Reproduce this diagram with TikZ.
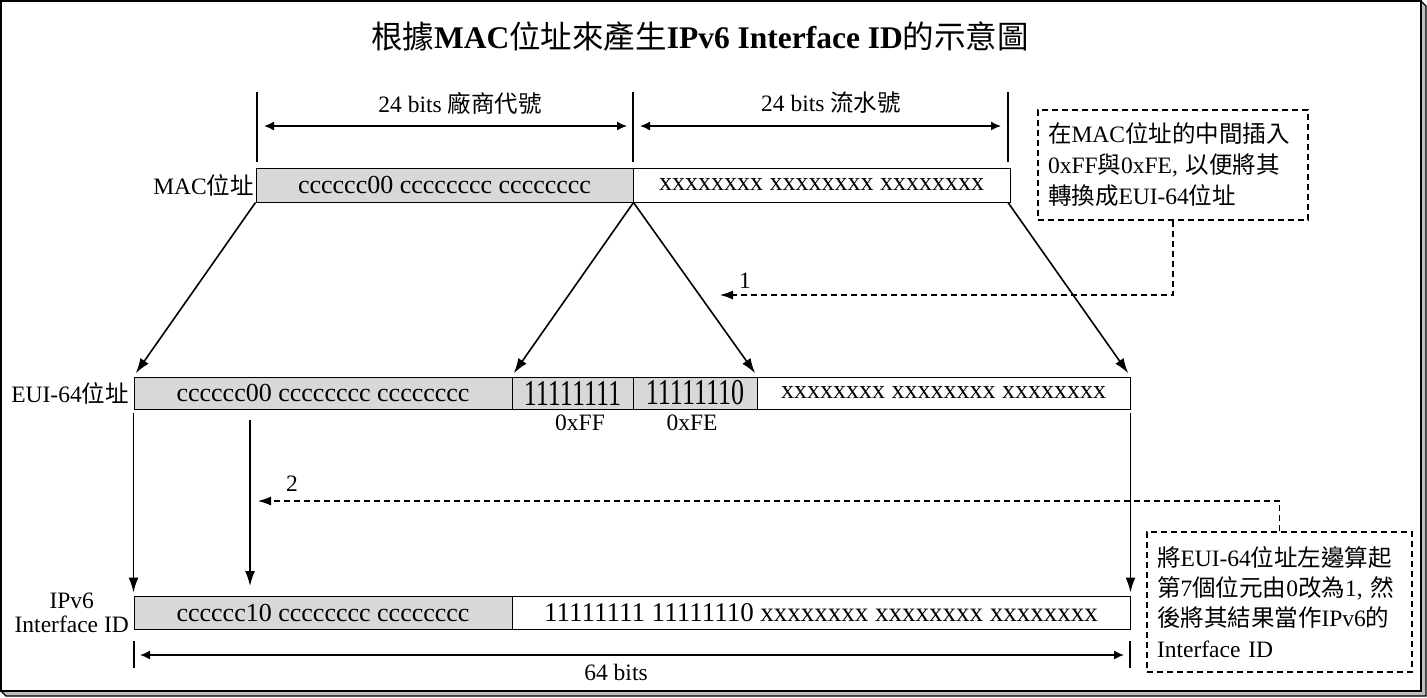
\documentclass[tikz,border=0pt]{standalone}
\usepackage{fontspec}
\setmainfont{Liberation Serif}
\newfontfamily\cjk{Noto Sans CJK TC}
\usetikzlibrary{arrows.meta}
\newcommand\zh[1]{{\cjk\mdseries #1}}
\definecolor{cellgray}{RGB}{216,216,216}
\definecolor{shadowgray}{RGB}{190,190,190}
\begin{document}
\begin{tikzpicture}[x=1pt,y=-1pt,
  font=\fontsize{23.5}{28}\selectfont,
  cell/.style={draw, line width=1pt, inner sep=0pt, font=\fontsize{26}{30}\selectfont, anchor=center},
  graycell/.style={cell, fill=cellgray},
  arr/.style={line width=1.6pt, -{Latex[length=15pt,width=10pt]}},
  dimarr/.style={line width=1.5pt, {Latex[length=10pt,width=9pt]}-{Latex[length=10pt,width=9pt]}},
  tickline/.style={line width=1.8pt},
  dsh/.style={line width=1.1pt, dash pattern=on 6pt off 4pt},
  dsharr/.style={dsh, -{Latex[length=13pt,width=9pt]}},
  note/.style={dsh, draw, align=left, inner xsep=10pt, inner ysep=0pt, anchor=center},
  lbl/.style={inner sep=0pt}]
\useasboundingbox (0,0) rectangle (1427,697);
% frame with shadow
\draw[line width=1.2pt, fill=shadowgray] (1421,1) -- (1426,6) -- (1426,696) -- (6,696) -- (1,691) -- (1421,691) -- cycle;
\draw[line width=1.5pt, fill=white] (1,1) rectangle (1421,691);

% title
\node[lbl, font=\fontsize{31.5}{36}\selectfont\bfseries] (title) at (700,37)
  {\zh{根據}MAC\zh{位址來產生}IPv6 Interface ID\zh{的示意圖}};

% MAC row
\node[graycell, minimum width=377pt, minimum height=34pt] (macA) at (444.5,185) {cccccc00 cccccccc cccccccc};
\node[cell, minimum width=377pt, minimum height=34pt] (macB) at (821.5,185) {xxxxxxxx xxxxxxxx xxxxxxxx};
\node[lbl, anchor=east] (macL) at (254,185) {MAC\zh{位址}};

% ticks and dimension arrows (top)
\coordinate (t1a) at (257,92);  \coordinate (t1b) at (257,162);
\coordinate (t2a) at (633,92);  \coordinate (t2b) at (633,162);
\coordinate (t3a) at (1008,92); \coordinate (t3b) at (1008,162);
\draw[tickline] (t1a) -- (t1b);
\draw[tickline] (t2a) -- (t2b);
\draw[tickline] (t3a) -- (t3b);
\coordinate (d1a) at (264,126); \coordinate (d1b) at (627,126);
\coordinate (d2a) at (640,126); \coordinate (d2b) at (1001,126);
\draw[dimarr] (d1a) -- (d1b);
\draw[dimarr] (d2a) -- (d2b);
\node[lbl] (lab1) at (460,103) {24 bits \zh{廠商代號}};
\node[lbl] (lab2) at (831,103) {24 bits \zh{流水號}};

% note 1
\node[note, text width=250pt, minimum height=110pt, font=\fontsize{23.5}{31}\selectfont] (note1) at (1173,165)
  {\zh{在}MAC\zh{位址的中間插入}\\0xFF\zh{與}0xFE, \zh{以便將其}\\\zh{轉換成}EUI-64\zh{位址}};
\coordinate (c1) at (720,295);
\draw[dsharr] (note1.south) |- (c1);
\node[lbl] (one) at (745,281) {1};

% EUI-64 row
\node[graycell, minimum width=378pt, minimum height=32pt] (euiA) at (323,393) {cccccc00 cccccccc cccccccc};
\node[graycell, minimum width=121pt, minimum height=32pt] (euiB) at (572.5,393) {\scalebox{1}[1.4]{11111111}};
\node[graycell, minimum width=124pt, minimum height=32pt] (euiC) at (695,393) {\scalebox{1}[1.4]{11111110}};
\node[cell, minimum width=373pt, minimum height=32pt] (euiD) at (943.5,393) {xxxxxxxx xxxxxxxx xxxxxxxx};
\node[lbl, anchor=east] (euiL) at (129,393) {EUI-64\zh{位址}};
\node[lbl] (ff) at (580,423) {0xFF};
\node[lbl] (fe) at (692,423) {0xFE};

% arrows MAC -> EUI
\draw[arr, shorten >=4pt] (macA.south west) -- (euiA.north west);
\draw[arr, shorten >=4pt] (macA.south east) -- (euiB.north west);
\draw[arr, shorten >=4pt] (macA.south east) -- (euiC.north east);
\draw[arr, shorten >=4pt] (t3b |- macB.south) -- (euiD.north east);

% IPv6 row
\node[graycell, minimum width=378pt, minimum height=33pt] (ipA) at (323,612.5) {cccccc10 cccccccc cccccccc};
\node[cell, minimum width=618pt, minimum height=33pt, font=\fontsize{27}{30}\selectfont] (ipB) at (821,612.5) {11111111 11111110 xxxxxxxx xxxxxxxx xxxxxxxx};
\node[lbl, anchor=east, align=center, font=\fontsize{23.5}{24}\selectfont] (ipL) at (129,613) {IPv6\\Interface ID};

% arrows EUI -> IPv6
\draw[arr, shorten <=3pt, shorten >=3pt] (euiA.south west) -- (ipA.north west);
\draw[arr, shorten <=3pt, shorten >=3pt] (euiD.south east) -- (ipB.north east);
\coordinate (m1) at (250,420); \coordinate (m2) at (250,586);
\draw[arr] (m1) -- (m2);

% note 2
\node[note, text width=245pt, minimum height=140pt, font=\fontsize{23.5}{30.3}\selectfont] (note2) at (1279.5,602)
  {\zh{將}EUI-64\zh{位址左邊算起}\\\zh{第}7\zh{個位元由}0\zh{改為}1, \zh{然}\\\zh{後將其結果當作}IPv6\zh{的}\\Interface ID};
\coordinate (c2) at (258,501);
\draw[dsharr] (note2.north) |- (c2);
\node[lbl] (two) at (292,484) {2};

% bottom dimension
\coordinate (b1a) at (134,641); \coordinate (b1b) at (134,668);
\coordinate (b2a) at (1130,641); \coordinate (b2b) at (1130,668);
\draw[tickline] (b1a) -- (b1b);
\draw[tickline] (b2a) -- (b2b);
\coordinate (bd1) at (140,655); \coordinate (bd2) at (1124,655);
\draw[dimarr] (bd1) -- (bd2);
\node[lbl] (bits64) at (616,672) {64 bits};
\end{tikzpicture}
\end{document}
